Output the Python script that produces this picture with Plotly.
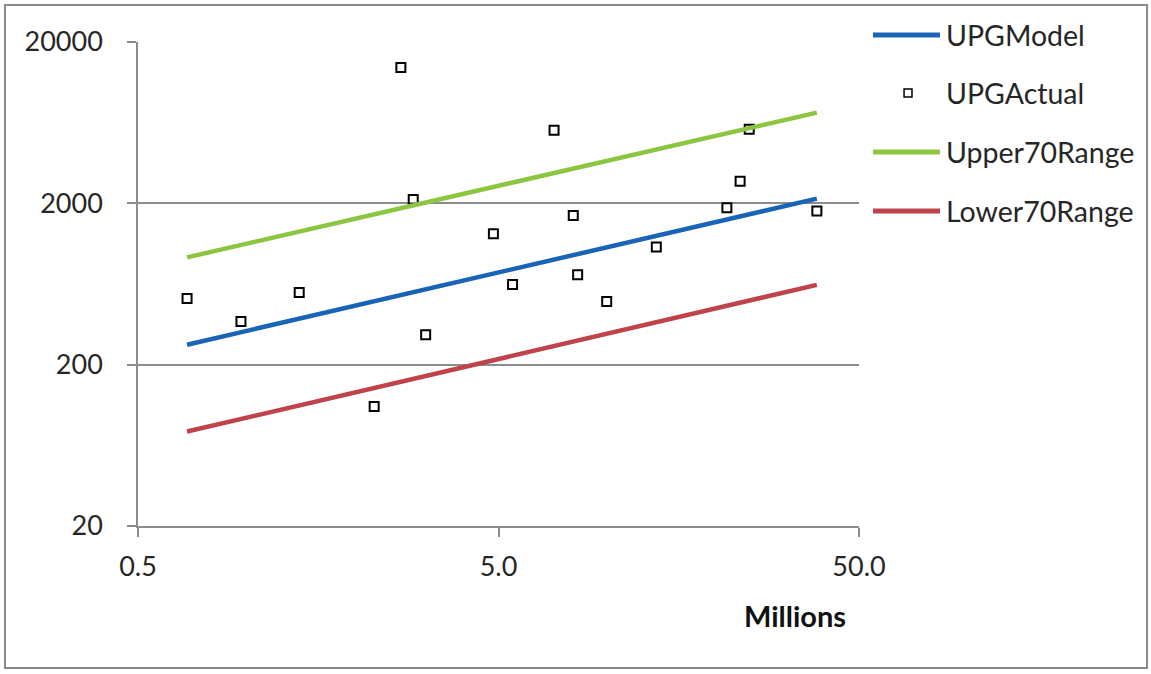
import plotly.graph_objects as go

# Data (x in millions, y values)
x_vals = [0.684, 0.965, 1.40, 2.26, 2.68, 2.90, 3.14, 4.84, 5.47, 7.13, 8.06, 8.29, 9.98, 13.7, 21.5, 23.4, 24.8, 38.2]
upg_actual = [514, 370, 560, 110, 13900, 2110, 306, 1297, 628, 5680, 1684, 721, 492, 1071, 1880, 2740, 5763, 1792]
upg_model = [266, 318, 386, 494, 541, 563, 586, 734, 783, 897, 956, 970, 1067, 1257, 1589, 1661, 1711, 2139]
upper70 = [925, 1105, 1340, 1715, 1875, 1950, 2030, 2540, 2710, 3100, 3300, 3350, 3680, 4330, 5460, 5700, 5870, 7300]
lower70 = [77, 92, 112, 143, 157, 163, 170, 213, 227, 260, 278, 282, 310, 365, 462, 483, 498, 625]

series_names = ["UPGModel", "UPGActual", "Upper70Range", "Lower70Range"]
x_ticks = [0.5, 5, 50]
x_ticktext = ["0.5", "5.0", "50.0"]
y_ticks = [20, 200, 2000, 20000]
y_ticktext = ["20", "200", "2000", "20000"]

FONT = "Lato, 'Open Sans', sans-serif"
GRID = "#8c8c8c"
TXT = "#262626"
BLUE, GREEN, RED = "#1a64b8", "#8cc540", "#c0424a"

fig = go.Figure()
fig.add_trace(go.Scatter(x=x_vals, y=upg_model, mode="lines", name=series_names[0],
                         line=dict(color=BLUE, width=4.5)))
fig.add_trace(go.Scatter(x=x_vals, y=upg_actual, mode="markers", name=series_names[1],
                         marker=dict(symbol="square-open", size=9, color="#000000",
                                     line=dict(width=2, color="#000000"))))
fig.add_trace(go.Scatter(x=x_vals, y=upper70, mode="lines", name=series_names[2],
                         line=dict(color=GREEN, width=4.5)))
fig.add_trace(go.Scatter(x=x_vals, y=lower70, mode="lines", name=series_names[3],
                         line=dict(color=RED, width=4.5)))

# Manual legend (paper coordinates)
leg_y = [1.0145, 0.8946, 0.7727, 0.6508]
leg_x0, leg_x1, leg_tx = 1.0194, 1.1123, 1.1180
shapes = [dict(type="rect", xref="paper", yref="paper",
               x0=-0.1845, x1=1.3995, y0=-0.2934, y1=1.0764,
               line=dict(color="#8a8a8a", width=2), fillcolor="rgba(0,0,0,0)")]
for yy, col in [(leg_y[0], BLUE), (leg_y[2], GREEN), (leg_y[3], RED)]:
    shapes.append(dict(type="line", xref="paper", yref="paper", x0=leg_x0, x1=leg_x1,
                       y0=yy, y1=yy, line=dict(color=col, width=5)))
shapes.append(dict(type="rect", xref="paper", yref="paper",
                   x0=1.068 - 0.0055, x1=1.068 + 0.0055,
                   y0=leg_y[1] - 0.0083, y1=leg_y[1] + 0.0083,
                   line=dict(color="#000000", width=1.5), fillcolor="white"))
annotations = [dict(x=leg_tx, y=yy, xref="paper", yref="paper", text=name,
                    xanchor="left", yanchor="middle", showarrow=False,
                    font=dict(family=FONT, size=28.5, color=TXT))
               for yy, name in zip(leg_y, series_names)]
annotations.append(dict(x=0.9112, y=-0.1839, xref="paper", yref="paper", text="<b>Millions</b>",
                        xanchor="center", yanchor="middle", showarrow=False,
                        font=dict(family=FONT, size=29, color="#111111")))

fig.update_layout(
    width=1151, height=674,
    margin=dict(l=138, r=292, t=42, b=148),
    paper_bgcolor="white", plot_bgcolor="white",
    font=dict(family=FONT, size=27, color=TXT),
    showlegend=False,
    xaxis=dict(type="log", range=[-0.30103, 1.69897],
               tickvals=x_ticks, ticktext=x_ticktext,
               showgrid=False, zeroline=False,
               showline=True, linecolor=GRID, linewidth=1.5,
               ticks="outside", ticklen=9, tickcolor=GRID, tickwidth=1.5,
               ticklabelstandoff=7,
               tickfont=dict(family=FONT, size=27, color=TXT)),
    yaxis=dict(type="log", range=[1.30103, 4.30103],
               tickvals=y_ticks, ticktext=y_ticktext,
               showgrid=True, gridcolor=GRID, gridwidth=1.5, zeroline=False,
               showline=True, linecolor=GRID, linewidth=1.5,
               ticks="outside", ticklen=9, tickcolor=GRID, tickwidth=1.5,
               ticklabelstandoff=19,
               tickfont=dict(family=FONT, size=27, color=TXT)),
    shapes=shapes,
    annotations=annotations,
)

fig.write_html("out.html", config={"displayModeBar": False},
               post_script="document.body.style.margin='0';")
